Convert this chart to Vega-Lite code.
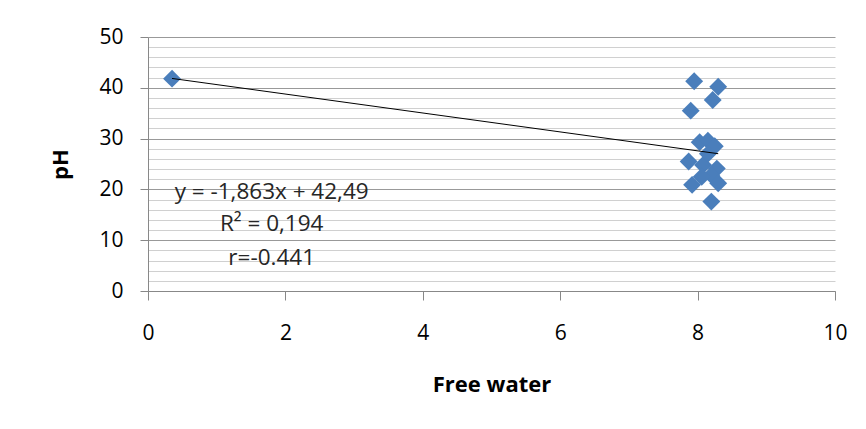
{
  "$schema": "https://vega.github.io/schema/vega-lite/v6.json",
  "width": 687,
  "height": 254,
  "autosize": "none",
  "padding": {"left": 148, "top": 37, "right": 31, "bottom": 138},
  "background": "white",
  "config": {
    "view": {"stroke": null},
    "font": "Open Sans",
    "axis": {"labelFont": "Open Sans", "titleFont": "Open Sans"}
  },
  "datasets": {
    "points": [
      {"water": 0.35, "ph": 41.8},
      {"water": 7.95, "ph": 41.3},
      {"water": 8.3, "ph": 40.2},
      {"water": 8.22, "ph": 37.6},
      {"water": 7.9, "ph": 35.5},
      {"water": 8.03, "ph": 29.3},
      {"water": 8.15, "ph": 29.6},
      {"water": 8.25, "ph": 28.5},
      {"water": 7.87, "ph": 25.5},
      {"water": 8.08, "ph": 24.8},
      {"water": 8.28, "ph": 24.1},
      {"water": 8.2, "ph": 22.8},
      {"water": 8.06, "ph": 22.5},
      {"water": 7.92, "ph": 20.9},
      {"water": 8.3, "ph": 21.2},
      {"water": 8.2, "ph": 17.6},
      {"water": 8.15, "ph": 27.0}
    ],
    "trend": [
      {"water": 0.35, "ph": 41.84},
      {"water": 8.3, "ph": 27.03}
    ],
    "notes": [
      {"water": 1.8, "ph": 19.5, "label": "y = -1,863x + 42,49"},
      {"water": 1.8, "ph": 13.2, "label": "R² = 0,194"},
      {"water": 1.8, "ph": 6.5, "label": "r=-0.441"}
    ]
  },
  "layer": [
    {
      "data": {"name": "trend"},
      "mark": {"type": "line", "opacity": 0},
      "encoding": {
        "x": {"field": "water", "type": "quantitative", "scale": {"domain": [0, 10], "nice": false},
          "axis": {"values": [0,2,4,6,8,10], "format": "d", "title": "Free water", "titleFontSize": 22, "titleFontWeight": "bold", "titleColor": "#000", "titlePadding": 31,
            "labelFontSize": 21, "labelColor": "#000", "labelPadding": 22, "tickSize": 9, "tickColor": "#888", "domainColor": "#888", "grid": false, "labelFlush": false}},
        "y": {"field": "ph", "type": "quantitative", "scale": {"domain": [0, 50], "nice": false},
          "axis": {"values": [2,4,6,8,12,14,16,18,22,24,26,28,32,34,36,38,42,44,46,48], "orient": "left", "labels": false, "ticks": false, "domain": false, "title": null, "grid": true, "gridColor": "#d0d0d0", "gridWidth": 1, "gridOpacity": 1}}
      }
    },
    {
      "data": {"name": "points"},
      "mark": {"type": "point", "shape": "diamond", "filled": true, "color": "#4a7ebb", "opacity": 1, "size": 320},
      "encoding": {
        "x": {"field": "water", "type": "quantitative"},
        "y": {"field": "ph", "type": "quantitative", "scale": {"domain": [0, 50], "nice": false},
          "axis": {"values": [0,10,20,30,40,50], "format": "d", "orient": "left", "title": "pH", "titleFontSize": 22, "titleFontWeight": "bold", "titleColor": "#000", "titlePadding": 26,
            "labelFontSize": 21, "labelColor": "#000", "labelPadding": 17, "tickSize": 8, "tickColor": "#888", "domainColor": "#888",
            "grid": true, "gridColor": "#999", "gridWidth": 1}}
      }
    },
    {
      "data": {"name": "trend"},
      "mark": {"type": "line", "color": "#000000", "strokeWidth": 1},
      "encoding": {
        "x": {"field": "water", "type": "quantitative"},
        "y": {"field": "ph", "type": "quantitative", "axis": null}
      }
    },
    {
      "data": {"name": "notes"},
      "mark": {"type": "text", "align": "center", "baseline": "middle", "fontSize": 22.5, "color": "#262626"},
      "encoding": {
        "x": {"field": "water", "type": "quantitative"},
        "y": {"field": "ph", "type": "quantitative", "axis": null},
        "text": {"field": "label"}
      }
    }
  ],
  "resolve": {"axis": {"y": "independent"}}
}
